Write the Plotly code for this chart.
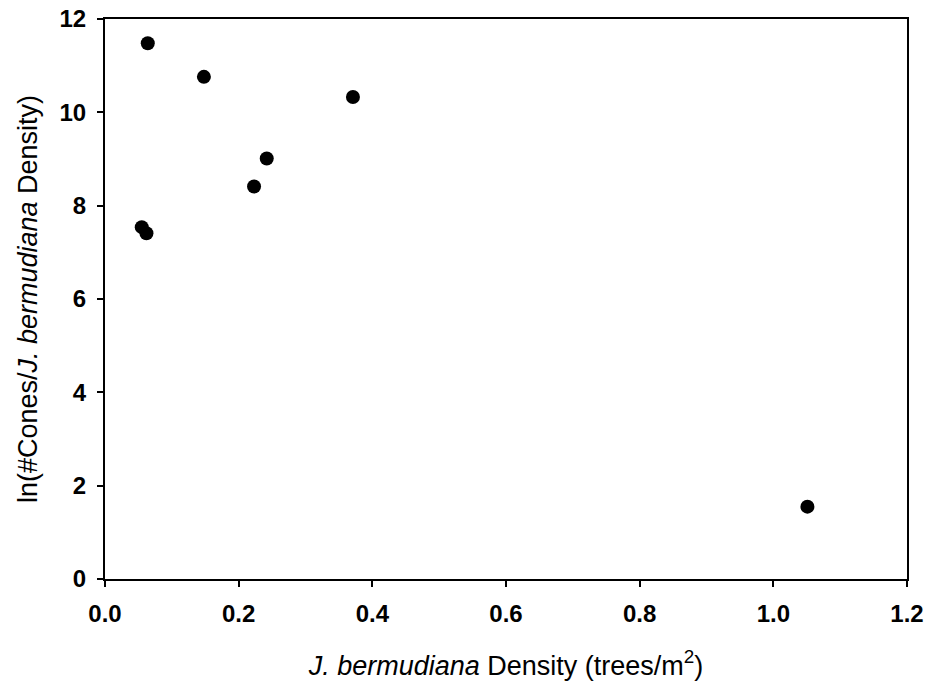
import plotly.graph_objects as go

density = [0.064, 0.148, 0.371, 0.242, 0.223, 0.055, 0.062, 1.051]
ln_cones = [11.48, 10.76, 10.33, 9.01, 8.41, 7.54, 7.41, 1.55]

x_ticks = [0.0, 0.2, 0.4, 0.6, 0.8, 1.0, 1.2]
x_labels = ["0.0", "0.2", "0.4", "0.6", "0.8", "1.0", "1.2"]
y_ticks = [0, 2, 4, 6, 8, 10, 12]
y_labels = ["0", "2", "4", "6", "8", "10", "12"]

fig = go.Figure(go.Scatter(
    x=density, y=ln_cones, mode="markers",
    marker=dict(color="black", size=14, line=dict(width=0)),
    showlegend=False, cliponaxis=False,
))

axis_common = dict(
    showline=True, linecolor="black", linewidth=2, mirror=True,
    ticks="outside", ticklen=6, tickwidth=2, tickcolor="black",
    showgrid=False, zeroline=False, automargin=False,
    ticklabeloverflow="allow",
    tickfont=dict(family="Liberation Sans", size=24, color="black", weight="bold"),
)

fig.update_xaxes(
    range=[0, 1.2], tickvals=x_ticks, ticktext=x_labels, ticklabelstandoff=6,
    title=dict(text="<i>J. bermudiana</i> Density (trees/m<sup>2</sup>)",
               font=dict(family="Liberation Sans", size=27, color="black"), standoff=30),
    **axis_common,
)
fig.update_yaxes(
    range=[0, 12], tickvals=y_ticks, ticktext=y_labels, ticklabelstandoff=6,
    title=dict(text="ln(#Cones/<i>J. bermudiana</i> Density)",
               font=dict(family="Liberation Sans", size=27, color="black"), standoff=14),
    **axis_common,
)

fig.update_layout(
    width=930, height=687,
    margin=dict(l=105, r=23, t=19, b=108),
    plot_bgcolor="white", paper_bgcolor="white",
)

fig.write_html("out.html", config={"displayModeBar": False},
               post_script="document.body.style.margin='0';")
